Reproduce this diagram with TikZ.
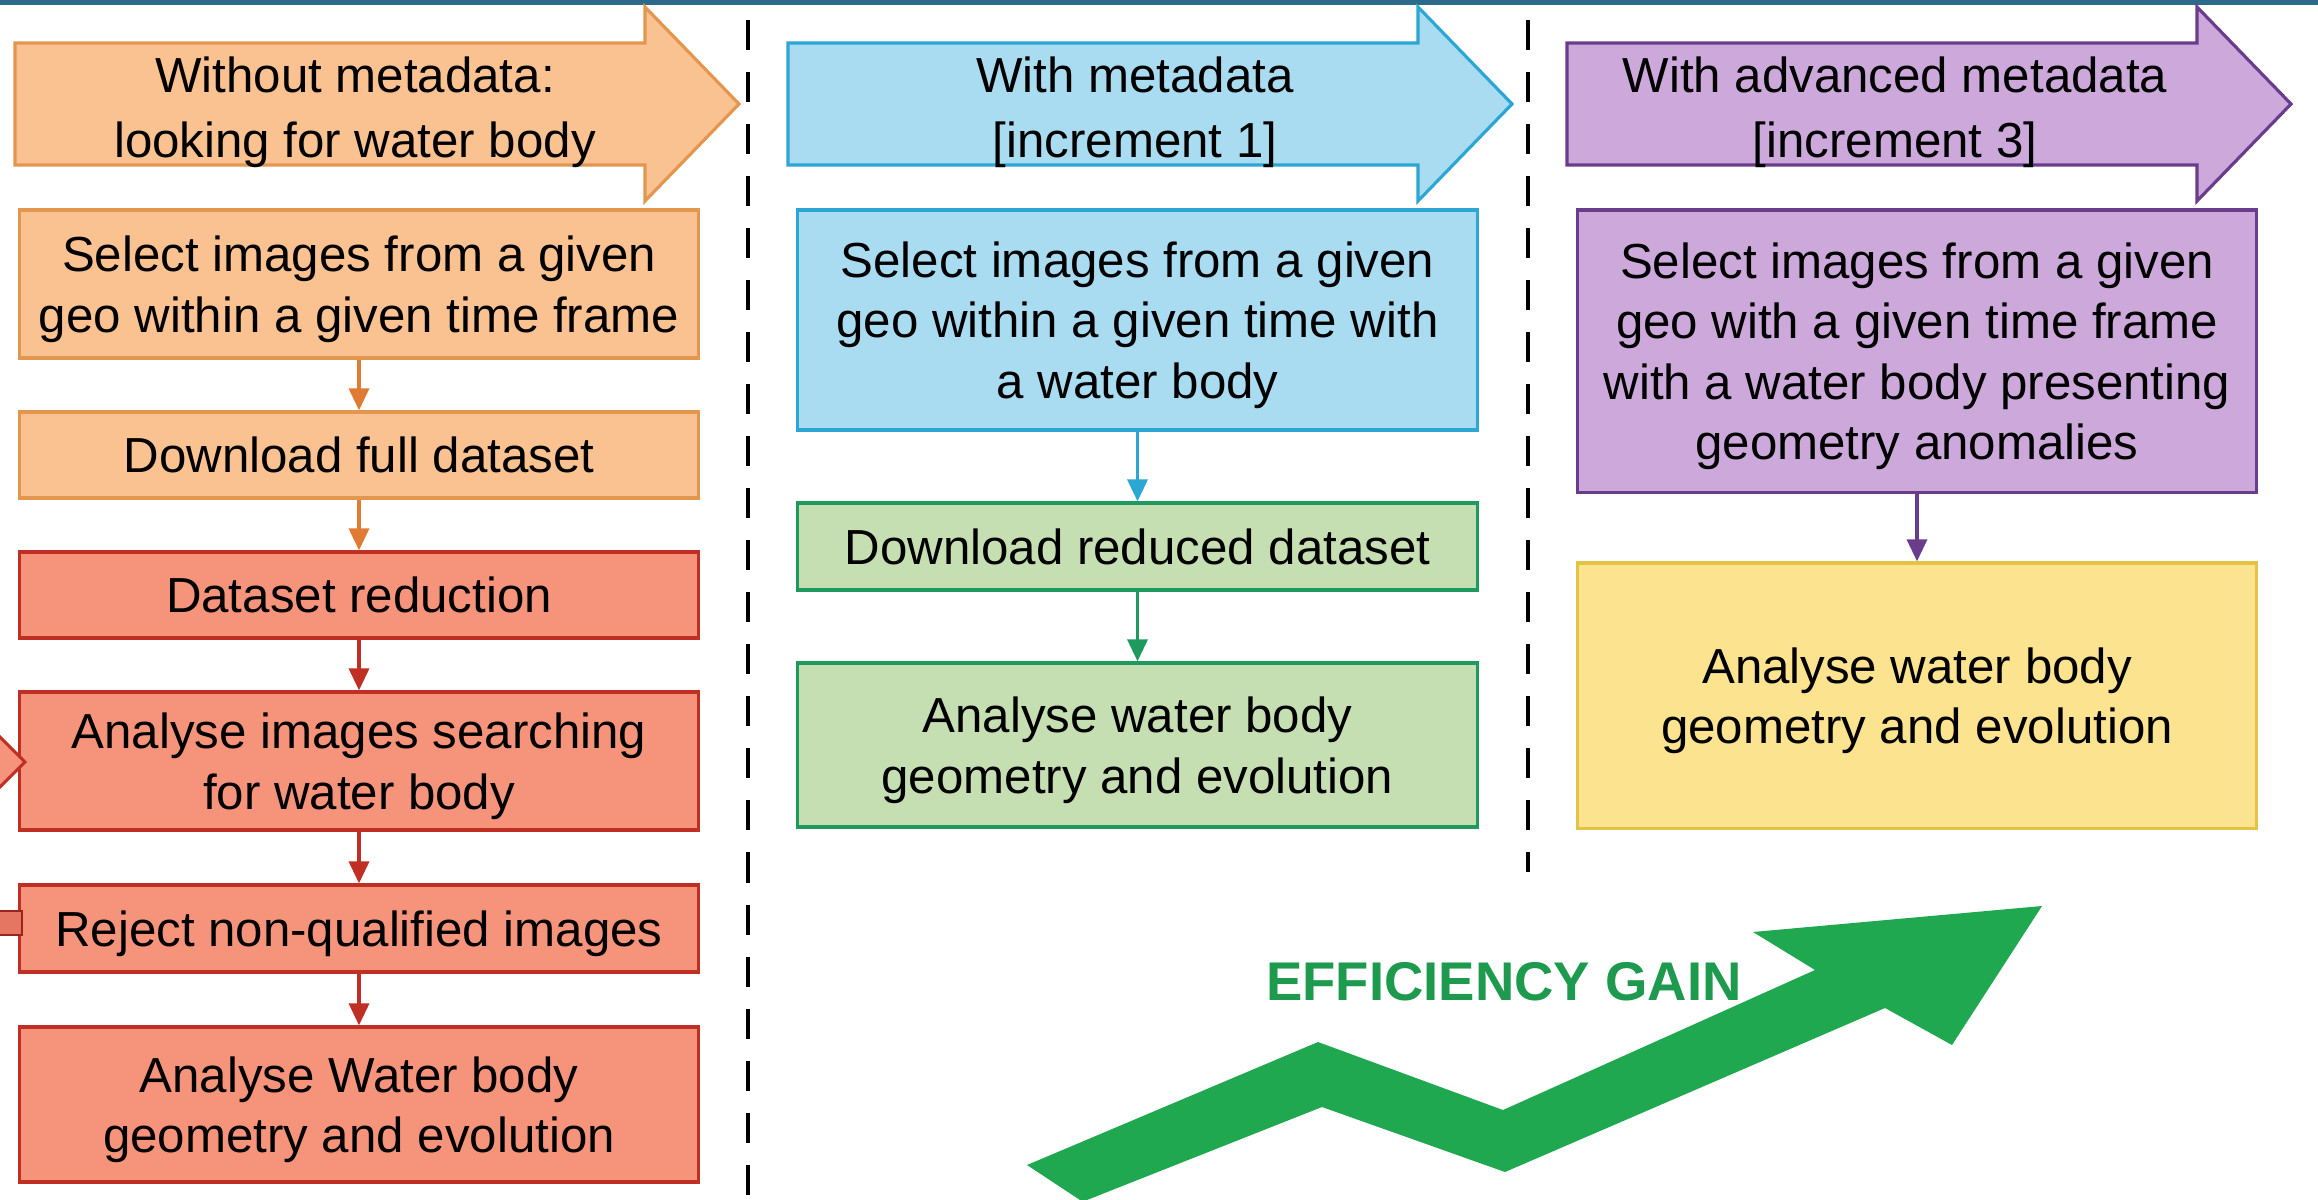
\documentclass[tikz,border=0pt]{standalone}
\usepackage{fontspec}
\setmainfont{Liberation Sans}
\usetikzlibrary{arrows.meta}

\definecolor{peach}{HTML}{FAC291}
\definecolor{peachline}{HTML}{E39650}
\definecolor{peacharrow}{HTML}{E07B35}
\definecolor{salmon}{HTML}{F5947B}
\definecolor{salmonline}{HTML}{BF2F24}
\definecolor{sky}{HTML}{A9DCF1}
\definecolor{skyline}{HTML}{2CA6D3}
\definecolor{sage}{HTML}{C6DFB2}
\definecolor{sageline}{HTML}{1F9A5E}
\definecolor{lilac}{HTML}{CDA9DB}
\definecolor{lilacline}{HTML}{6A3C8C}
\definecolor{butter}{HTML}{FCE390}
\definecolor{butterline}{HTML}{E4C244}
\definecolor{gaingreen}{HTML}{1FA84F}
\definecolor{gaintext}{HTML}{1E9A4E}
\definecolor{topline}{HTML}{2B6A8A}

\def\headarrow[#1](#2){\filldraw[#1] (#2,43) -- ++(630,0) -- ++(0,-36) -- ++(94,97) -- ++(-94,97) -- ++(0,-36) -- ++(-630,0) -- cycle;}

\tikzset{
  stage/.style={draw, line width=0.9pt, minimum width=6.79cm, inner sep=0pt, align=center, text depth=0pt, font=\fontsize{14}{17.2}\selectfont},
  heading/.style={align=center, text depth=0pt, font=\fontsize{14}{18.6}\selectfont},
  flow/.style={-{Triangle[length=0.22cm, width=0.2cm]}, line width=1pt},
  sepline/.style={line width=0.045cm, dash pattern=on 0.3cm off 0.22cm},
}

\begin{document}
\begin{tikzpicture}[x=0.01cm, y=-0.01cm]
			%%%%% START %%%%%
			
			\fill[white] (0,0) rectangle (2318,1200);
			\useasboundingbox (0,0) rectangle (2318,1200);
			\draw[topline, line width=0.05cm] (0,2.5) -- (2318,2.5);
			
			% headers
			\headarrow[fill=peach, draw=peachline, line width=0.9pt](15)
			\headarrow[fill=sky, draw=skyline, line width=0.9pt](788)
			\headarrow[fill=lilac, draw=lilacline, line width=0.9pt](1567)
			\node[heading] (noMeta) at (355,107) {Without metadata:\\looking for water body};
			\node[heading] (meta1) at (1135,107) {With metadata\\{[}increment 1{]}};
			\node[heading] (meta3) at (1895,107) {With advanced metadata\\{[}increment 3{]}};
			
			% without metadata
			\node[stage, fill=peach, draw=peachline, minimum height=1.48cm] (selA) at (359,284) {Select images from a given\\geo within a given time frame};
			\node[stage, fill=peach, draw=peachline, minimum height=0.86cm] (dlA) at (359,455) {Download full dataset};
			\node[stage, fill=salmon, draw=salmonline, minimum height=0.86cm] (redA) at (359,595) {Dataset reduction};
			\node[stage, fill=salmon, draw=salmonline, minimum height=1.38cm] (anaA) at (359,761) {Analyse images searching\\for water body};
			\node[stage, fill=salmon, draw=salmonline, minimum height=0.87cm] (rejA) at (359,928.5) {Reject non-qualified images};
			\node[stage, fill=salmon, draw=salmonline, minimum height=1.55cm] (geoA) at (359,1104.5) {Analyse Water body\\geometry and evolution};
			\draw[flow, peacharrow] (selA.south) -- (dlA.north);
			\draw[flow, peacharrow] (dlA.south) -- (redA.north);
			\draw[flow, salmonline] (redA.south) -- (anaA.north);
			\draw[flow, salmonline] (anaA.south) -- (rejA.north);
			\draw[flow, salmonline] (rejA.south) -- (geoA.north);
			
			% cut-off loop at the left edge
			\filldraw[fill=salmon, draw=salmonline, line width=0.9pt] (-2,735) -- (25,762) -- (-2,789);
			\filldraw[fill=salmon!70!salmonline, draw=salmonline!80!black, line width=0.6pt] (-2,911) rectangle (22,935);
			
			% with metadata
			\node[stage, fill=sky, draw=skyline, minimum height=2.2cm] (selB) at (1137.5,320) {Select images from a given\\geo within a given time with\\a water body};
			\node[stage, fill=sage, draw=sageline, minimum height=0.87cm] (dlB) at (1137.5,546.5) {Download reduced dataset};
			\node[stage, fill=sage, draw=sageline, minimum height=1.64cm] (geoB) at (1137.5,745) {Analyse water body\\geometry and evolution};
			\draw[flow, skyline] (selB.south) -- (dlB.north);
			\draw[flow, sageline] (dlB.south) -- (geoB.north);
			
			% with advanced metadata
			\node[stage, fill=lilac, draw=lilacline, minimum height=2.82cm] (selC) at (1917,351) {Select images from a given\\geo with a given time frame\\with a water body presenting\\geometry anomalies};
			\node[stage, fill=butter, draw=butterline, minimum height=2.65cm] (geoC) at (1917,695.5) {Analyse water body\\geometry and evolution};
			\draw[flow, lilacline] (selC.south) -- (geoC.north);
			
			% separators
			\draw[sepline] (748,20) -- (748,1200);
			\draw[sepline] (1528,20) -- (1528,872);
			
			% efficiency gain
			\fill[gaingreen] (1027,1165) -- (1318,1042) -- (1503,1110) -- (1815,970) -- (1753,932) -- (2042,906) -- (1952,1045) -- (1885,1008) -- (1505,1172) -- (1322,1107) -- (1087,1200) -- (1080,1200) -- cycle;
			\node[font=\fontsize{15.5}{18}\selectfont\bfseries, text=gaintext] (gain) at (1504,982) {EFFICIENCY GAIN};
			
			%%%%% END %%%%%
\end{tikzpicture}
\end{document}
